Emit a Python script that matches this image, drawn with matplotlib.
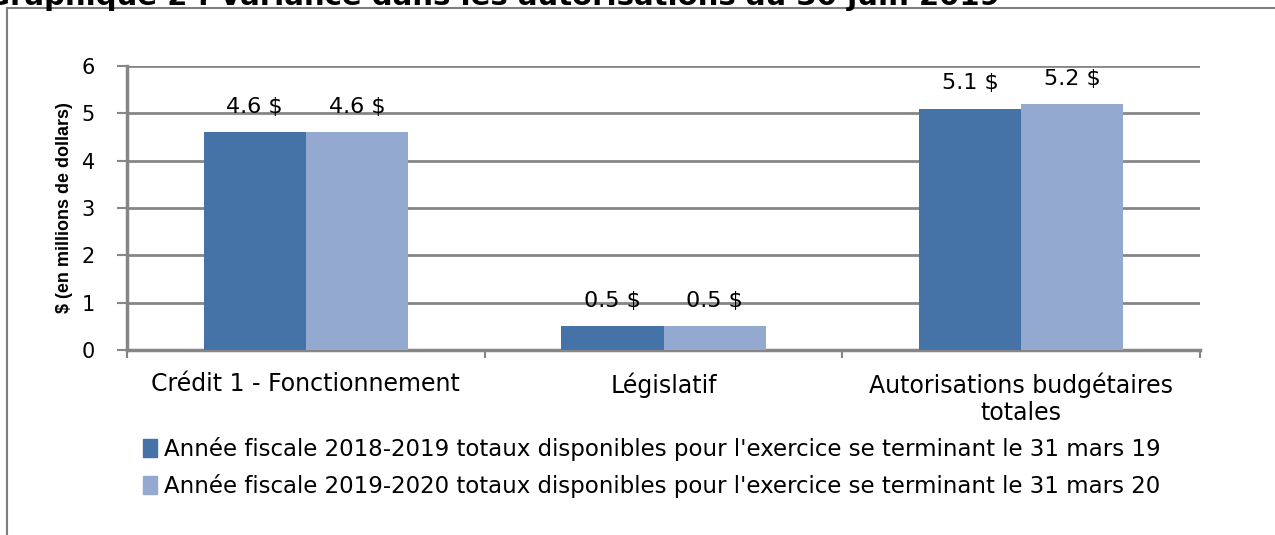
import numpy as np
import matplotlib.pyplot as plt
from matplotlib.patches import Rectangle, Patch

plt.rcParams['font.family'] = ['DejaVu Sans']

# --- données ---
categories = ["Crédit 1 - Fonctionnement", "Législatif", "Autorisations budgétaires\ntotales"]
vals_2019 = [4.6, 0.5, 5.1]
vals_2020 = [4.6, 0.5, 5.2]
series_names = ["Année fiscale 2018-2019 totaux disponibles pour l'exercice se terminant le 31 mars 19",
                "Année fiscale 2019-2020 totaux disponibles pour l'exercice se terminant le 31 mars 20"]
yticks = [0, 1, 2, 3, 4, 5, 6]
title = "Graphique 2 : Variance dans les autorisations au 30 juin 2019"

c_dark = "#4573A7"
c_light = "#93A9CF"
grid_c = "#868686"

fig = plt.figure(figsize=(12.75, 5.35), dpi=100)

# cadre gris
fig.patches.append(Rectangle((7/1275, -0.2), 1.1, 1.2 - 8/535,
                             transform=fig.transFigure, fill=False,
                             edgecolor="#7f7f7f", linewidth=1.5))
# titre coupé en haut, comme dans l'original
fig.text(-14/1275, 1.0 - 5/535, title, fontsize=21, fontweight='bold',
         va='baseline', ha='left')

ax = fig.add_axes([127/1275, 1 - 350/535, (1200 - 127)/1275, (350 - 66)/535])
x = np.arange(len(categories))
w = 0.286
b1 = ax.bar(x - w/2, vals_2019, w, color=c_dark, zorder=3)
b2 = ax.bar(x + w/2, vals_2020, w, color=c_light, zorder=3)

for bars, vals in ((b1, vals_2019), (b2, vals_2020)):
    for b, v in zip(bars, vals):
        ax.text(b.get_x() + b.get_width()/2, v + 0.32, f"{v:.1f} $",
                ha='center', va='bottom', fontsize=16)

ax.set_xlim(-0.5, len(categories) - 0.5)
ax.set_ylim(0, 6)
ax.set_yticks(yticks)
ax.tick_params(axis='y', labelsize=15, length=7, width=1.5, color=grid_c, pad=16)
ax.set_xticks(x)
ax.set_xticklabels(categories, fontsize=17, linespacing=1.15)
ax.tick_params(axis='x', length=0, pad=16)
ax.set_xticks(np.arange(len(categories) + 1) - 0.5, minor=True)
ax.tick_params(axis='x', which='minor', length=6, width=1.5, color=grid_c)
ax.yaxis.grid(True, color=grid_c, linewidth=2, zorder=0)
ax.set_axisbelow(True)
for s in ['top', 'right']:
    ax.spines[s].set_visible(False)
for s in ['left', 'bottom']:
    ax.spines[s].set_color(grid_c)
    ax.spines[s].set_linewidth(2.5)
ax.set_ylabel("$ (en millions de dollars)", fontsize=13, fontweight='bold',
              family='Liberation Sans', labelpad=6)

handles = [Patch(color=c_dark), Patch(color=c_light)]
fig.legend(handles, series_names, loc='upper left', frameon=False,
           bbox_to_anchor=(134/1275, 1 - 428/535), fontsize=16.5,
           handlelength=0.6, handleheight=0.8, handletextpad=0.3,
           labelspacing=0.55, borderaxespad=0)

fig.savefig("out.png", dpi=100)
